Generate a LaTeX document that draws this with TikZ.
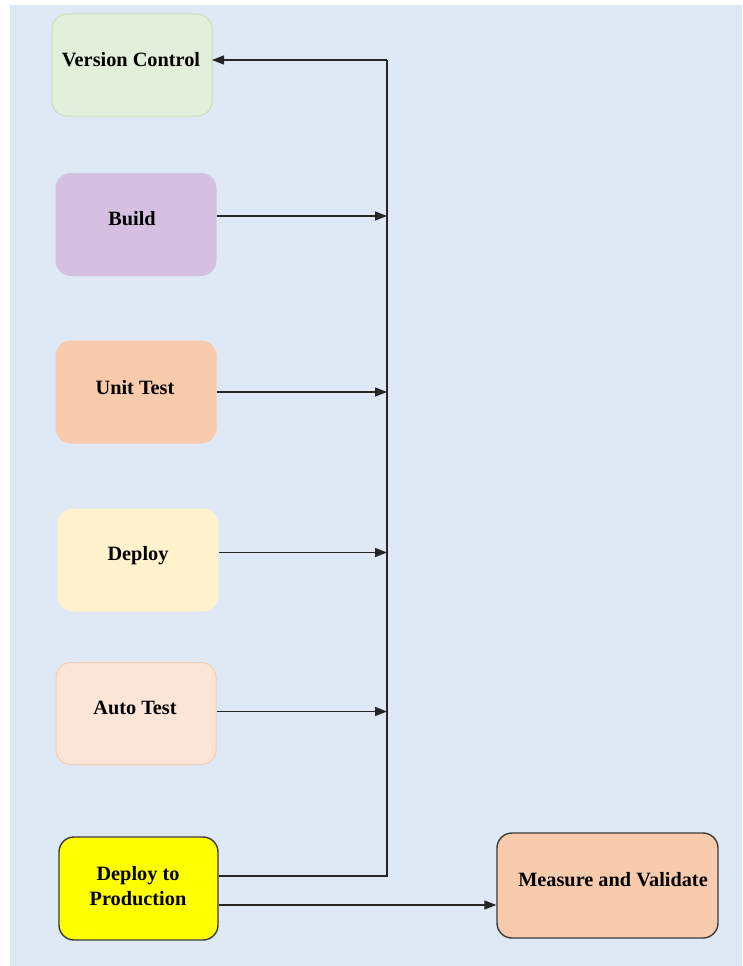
\documentclass[tikz,border=0pt]{standalone}
\usepackage{fontspec}
\setmainfont{Liberation Serif}
\usetikzlibrary{arrows.meta}
\definecolor{bgblue}{HTML}{DEE9F5}
\definecolor{vcfill}{HTML}{E2EFDA}
\definecolor{vcdraw}{HTML}{C9E2B8}
\definecolor{buildfill}{HTML}{D5C0E2}
\definecolor{unitfill}{HTML}{F8CBAD}
\definecolor{deployfill}{HTML}{FFF2CC}
\definecolor{autofill}{HTML}{FBE5D6}
\definecolor{autodraw}{HTML}{F6CDB0}
\definecolor{darkline}{HTML}{3A3A3A}
\definecolor{pureyellow}{HTML}{FFFF00}
\tikzset{
  box/.style={rectangle, rounded corners=15pt, minimum width=160pt, minimum height=102pt, inner sep=0pt, line width=1pt},
  lbl/.style={font=\bfseries\fontsize{20.3}{24.5}\selectfont, text=black, inner sep=0pt, align=center},
  conn/.style={line width=1.4pt, draw=black!85},
  arr/.style={conn, -{Triangle[length=12pt,width=9pt]}},
}
\begin{document}
\begin{tikzpicture}[x=1pt,y=-1pt]
\useasboundingbox (0,0) rectangle (742,966);
\fill[bgblue] (10,5) rectangle (742,966);

% boxes
\node[box, fill=vcfill, draw=vcdraw] (vc) at (132,65) {};
\node[box, fill=buildfill, draw=buildfill] (build) at (136,224.5) {};
\node[box, fill=unitfill, draw=unitfill] (unit) at (136,392) {};
\node[box, fill=deployfill, draw=deployfill] (deploy) at (138,560) {};
\node[box, fill=autofill, draw=autodraw] (auto) at (136,713.5) {};
\node[box, fill=pureyellow, draw=darkline, line width=1.4pt, minimum width=159pt, minimum height=103pt] (dp) at (138.5,888.5) {};
\node[box, fill=unitfill, draw=darkline, line width=1.4pt, minimum width=221pt, minimum height=105pt] (mv) at (607.5,885.5) {};

% labels
\node[lbl] (vct) at (131,60) {Version Control};
\node[lbl] (buildt) at (132,219) {Build};
\node[lbl] (unitt) at (135,388) {Unit Test};
\node[lbl] (deployt) at (138,556) {Deploy};
\node[lbl] (autot) at (135,708) {Auto Test};
\node[lbl] (dpt) at (138,886) {Deploy to\\Production};
\node[lbl] (mvt) at (613,880) {Measure and Validate};

% bus
\coordinate (bustop) at (387,60);
\coordinate (vcin) at (212,60);
\coordinate (buildout) at ([yshift=8.5pt]build.east);
\coordinate (unitout) at ([yshift=0pt]unit.east);
\coordinate (deployout) at ([yshift=7.5pt]deploy.east);
\coordinate (autoout) at ([yshift=2pt]auto.east);
\coordinate (dpout1) at ([yshift=12.5pt]dp.east);
\coordinate (dpout2) at ([yshift=-16.5pt]dp.east);
\coordinate (busbot) at (dpout1 -| bustop);

\draw[conn] (dpout1) -- (busbot) -- (bustop);
\draw[arr] (bustop) -- (vcin);
\draw[arr] (buildout) -- (buildout -| bustop);
\draw[arr] (unitout) -- (unitout -| bustop);
\draw[arr] (deployout) -- (deployout -| bustop);
\draw[arr] (autoout) -- (autoout -| bustop);
\draw[arr] (dpout2) -- (dpout2 -| mv.west);
\end{tikzpicture}
\end{document}
